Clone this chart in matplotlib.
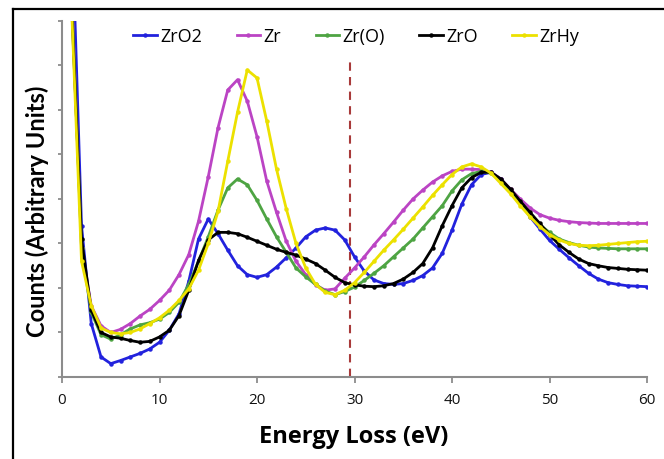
import matplotlib
matplotlib.use("Agg")
import matplotlib.pyplot as plt
import numpy as np
from matplotlib.lines import Line2D

plt.rcParams['font.family'] = ['Open Sans', 'DejaVu Sans']

# Energy loss axis (eV)
energy_ev = np.arange(1, 61)

zro2 = [10.3, 3.4, 1.2, 0.45, 0.3, 0.37, 0.45, 0.53, 0.63, 0.78,
        1.05, 1.42, 2.15, 3.1, 3.55, 3.22, 2.85, 2.5, 2.3, 2.24,
        2.3, 2.47, 2.68, 2.9, 3.15, 3.3, 3.35, 3.3, 3.08, 2.7,
        2.38, 2.18, 2.1, 2.08, 2.1, 2.17, 2.28, 2.45, 2.78, 3.3,
        3.88, 4.32, 4.55, 4.6, 4.45, 4.2, 3.92, 3.6, 3.33, 3.07,
        2.87, 2.68, 2.5, 2.33, 2.2, 2.12, 2.08, 2.05, 2.04, 2.03]

zr = [8.6, 2.9, 1.6, 1.15, 1.0, 1.07, 1.2, 1.37, 1.52, 1.72,
      1.95, 2.3, 2.75, 3.5, 4.5, 5.6, 6.45, 6.68, 6.2, 5.4,
      4.4, 3.7, 3.05, 2.6, 2.3, 2.07, 1.95, 1.98, 2.22, 2.45,
      2.7, 2.97, 3.22, 3.48, 3.75, 4.0, 4.2, 4.38, 4.52, 4.62,
      4.67, 4.67, 4.66, 4.6, 4.45, 4.22, 4.0, 3.8, 3.65, 3.57,
      3.52, 3.49, 3.47, 3.46, 3.45, 3.45, 3.45, 3.45, 3.45, 3.45]

zr_o = [8.5, 2.9, 1.45, 0.95, 0.85, 0.95, 1.08, 1.17, 1.22, 1.3,
        1.45, 1.68, 2.08, 2.6, 3.15, 3.75, 4.25, 4.45, 4.32, 3.97,
        3.55, 3.15, 2.8, 2.45, 2.25, 2.08, 1.93, 1.85, 1.92, 2.02,
        2.17, 2.33, 2.5, 2.7, 2.9, 3.1, 3.35, 3.6, 3.85, 4.18,
        4.43, 4.57, 4.62, 4.58, 4.4, 4.15, 3.9, 3.65, 3.42, 3.25,
        3.1, 3.02, 2.96, 2.92, 2.9, 2.89, 2.88, 2.88, 2.88, 2.88]

zro = [8.3, 3.1, 1.5, 1.0, 0.9, 0.87, 0.82, 0.78, 0.8, 0.9,
       1.05, 1.38, 1.95, 2.62, 3.08, 3.25, 3.25, 3.22, 3.14, 3.05,
       2.96, 2.87, 2.8, 2.74, 2.65, 2.55, 2.4, 2.24, 2.12, 2.07,
       2.04, 2.03, 2.05, 2.1, 2.2, 2.35, 2.55, 2.9, 3.4, 3.85,
       4.25, 4.48, 4.6, 4.6, 4.45, 4.22, 3.95, 3.7, 3.45, 3.2,
       2.97, 2.8, 2.65, 2.55, 2.5, 2.46, 2.44, 2.42, 2.41, 2.4]

zrhy = [8.2, 2.6, 1.6, 1.1, 1.0, 0.97, 1.0, 1.08, 1.2, 1.33,
        1.5, 1.72, 1.98, 2.4, 3.0, 3.72, 4.85, 5.95, 6.9, 6.72,
        5.75, 4.67, 3.78, 3.0, 2.45, 2.08, 1.9, 1.85, 1.95, 2.12,
        2.35, 2.6, 2.85, 3.08, 3.32, 3.57, 3.82, 4.08, 4.32, 4.55,
        4.72, 4.79, 4.72, 4.58, 4.35, 4.12, 3.85, 3.6, 3.38, 3.2,
        3.08, 3.0, 2.96, 2.95, 2.96, 2.98, 3.0, 3.02, 3.04, 3.05]

series_names = ["ZrO2", "Zr", "Zr(O)", "ZrO", "ZrHy"]
series_colors = ["#2222dd", "#bb44c4", "#4ea443", "#000000", "#ece100"]
series_values = [zro2, zr, zr_o, zro, zrhy]

marker_energy = 29.5

fig = plt.figure(figsize=(6.64, 4.6), dpi=100)
ax = fig.add_axes([0.0934, 0.1783, 0.8810, 0.7739])

for name, color, vals in zip(series_names, series_colors, series_values):
    ax.plot(energy_ev, vals, color=color, lw=2.0, marker='o', ms=2.2,
            mec=color, mfc=color, label=name, zorder=3)

ax.axvline(marker_energy, ymin=0, ymax=0.9, color="#a83a3a", lw=1.5,
           dashes=(4, 3), zorder=2)

ax.set_xlim(0, 60)
ax.set_ylim(0, 8)
ax.set_xticks(np.arange(0, 61, 10))
ax.set_yticks(np.arange(0, 9, 1))
ax.set_yticklabels([])

for side in ("top", "right"):
    ax.spines[side].set_visible(False)
for side in ("left", "bottom"):
    ax.spines[side].set_color("#8c8c8c")
    ax.spines[side].set_linewidth(1.5)

ax.tick_params(axis='x', direction='out', length=4, width=1.3,
               color="#8c8c8c", labelsize=11, pad=7, labelcolor="#111111")
ax.tick_params(axis='y', direction='out', length=3, width=1.3,
               color="#8c8c8c")

handles = [Line2D([0], [0], color=c, lw=2.0, marker='o', ms=2.2)
           for c in series_colors]
ax.legend(handles, series_names, loc='center', bbox_to_anchor=(0.503, 0.958),
          ncol=5, frameon=False, fontsize=13, handlelength=1.3,
          handletextpad=0.2, columnspacing=1.9)

fig.text(353.5 / 664, 1 - 443 / 460, "Energy Loss (eV)", ha='center',
         va='baseline', fontsize=17, fontweight='bold')
fig.text(37.5 / 664, 1 - 211 / 460, "Counts (Arbitrary Units)", ha='center',
         va='center', rotation=90, fontsize=17, fontweight='bold',
         family=['Lato', 'DejaVu Sans'])

# outer frame edges
fig.add_artist(Line2D([13 / 664, 13 / 664], [0, 1 - 10 / 460],
                      transform=fig.transFigure, color='black', lw=1.6))
fig.add_artist(Line2D([13 / 664, 1], [1 - 10 / 460, 1 - 10 / 460],
                      transform=fig.transFigure, color='black', lw=1.6))

fig.savefig("out.png", dpi=100)
